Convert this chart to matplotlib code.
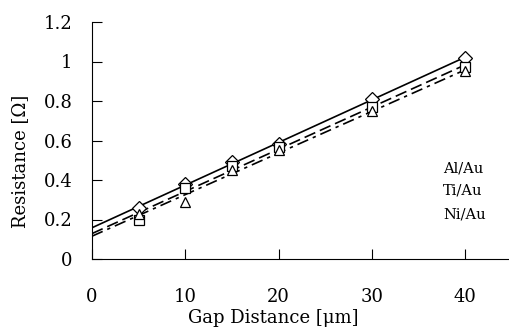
import numpy as np
import matplotlib
matplotlib.use('Agg')
import matplotlib.pyplot as plt

plt.rcParams['font.family'] = ['DejaVu Serif']

gap = [5, 10, 15, 20, 30, 40]
r_alau = [0.26, 0.38, 0.49, 0.58, 0.81, 1.02]
r_tiau = [0.20, 0.36, 0.47, 0.565, 0.77, 0.97]
r_niau = [0.23, 0.29, 0.45, 0.55, 0.75, 0.95]
labels = ['Al/Au', 'Ti/Au', 'Ni/Au']

W, H = 509, 329
fig = plt.figure(figsize=(W/100, H/100), dpi=100)
ax = fig.add_axes([92/W, 70/H, 417/W, 237/H])

series = [(r_alau, 'D', '-'), (r_tiau, 's', (0, (7, 3))), (r_niau, '^', (0, (7, 3, 2, 3)))]
xfit = np.array([0, 40])
for ys, mk, ls in series:
    ax.plot(gap, ys, mk, mfc='white', mec='black', ms=7, mew=0.9, ls='none', zorder=3)
    k, b = np.polyfit(gap, ys, 1)
    ax.plot(xfit, k*xfit + b, color='black', lw=1.2, ls=ls, zorder=2)

ax.set_xlim(0, 44.7)
ax.set_ylim(0, 1.2)
ax.set_xticks([0, 10, 20, 30, 40])
ax.set_yticks([0, 0.2, 0.4, 0.6, 0.8, 1.0, 1.2])
ax.set_yticklabels(['0', '0.2', '0.4', '0.6', '0.8', '1', '1.2'])
ax.spines['top'].set_visible(False)
ax.spines['right'].set_visible(False)
ax.tick_params(axis='y', direction='in', length=7, pad=14, labelsize=13)
ax.tick_params(axis='x', direction='in', length=7, pad=21, labelsize=13)
ax.set_xlabel('Gap Distance [μm]', fontsize=13, va='center')
ax.xaxis.set_label_coords(0.434, -0.249)
ax.set_ylabel('Resistance [Ω]', fontsize=13, va='center')
ax.yaxis.set_label_coords(-0.173, 0.41)

for i, lab in enumerate(labels):
    ax.text(443/W, 1 - (168 + i*23)/H, lab, transform=fig.transFigure,
            fontsize=10.5, va='center', ha='left')

fig.savefig('out.png', dpi=100)
